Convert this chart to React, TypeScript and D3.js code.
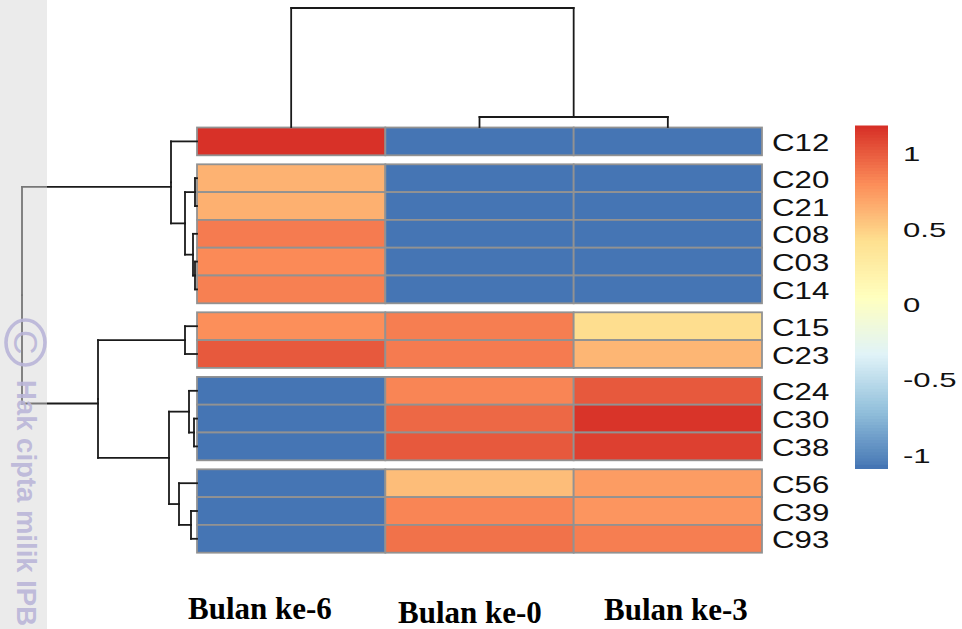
import { useEffect, useRef } from "react";
import * as d3 from "d3";

const columns = ["Bulan ke-6", "Bulan ke-0", "Bulan ke-3"];
const rowGroups = [["C12"], ["C20", "C21", "C08", "C03", "C14"], ["C15", "C23"], ["C24", "C30", "C38"], ["C56", "C39", "C93"]];
const cellValues: Record<string, number[]> = {
  C12: [1.16, -1.1, -1.1],
  C20: [0.62, -1.1, -1.1],
  C21: [0.63, -1.1, -1.1],
  C08: [0.86, -1.1, -1.1],
  C03: [0.8, -1.1, -1.1],
  C14: [0.84, -1.1, -1.1],
  C15: [0.78, 0.85, 0.42],
  C23: [1.0, 0.86, 0.6],
  C24: [-1.1, 0.82, 1.0],
  C30: [-1.1, 0.94, 1.15],
  C38: [-1.1, 1.0, 1.1],
  C56: [-1.1, 0.57, 0.72],
  C39: [-1.1, 0.82, 0.75],
  C93: [-1.1, 0.9, 0.85],
};
const legendTicks = [1, 0.5, 0, -0.5, -1];
const legendColors = ["#4575b4", "#91bfdb", "#e0f3f8", "#ffffbf", "#fee090", "#fc8d59", "#d73027"];
const legendDomain = [-1.1, 1.166];

type Node = { name?: string; height?: number; children?: Node[] };
const leaf = (name: string): Node => ({ name, height: 0 });
const rowTree: Node = {
  height: 8.75,
  children: [
    {
      height: 1.3,
      children: [
        leaf("C12"),
        {
          height: 0.6,
          children: [
            { height: 0.1, children: [leaf("C20"), leaf("C21")] },
            { height: 0.2, children: [leaf("C08"), { height: 0.1, children: [leaf("C03"), leaf("C14")] }] },
          ],
        },
      ],
    },
    {
      height: 4.95,
      children: [
        { height: 0.6, children: [leaf("C15"), leaf("C23")] },
        {
          height: 1.4,
          children: [
            { height: 0.4, children: [leaf("C24"), { height: 0.15, children: [leaf("C30"), leaf("C38")] }] },
            { height: 0.9, children: [leaf("C56"), { height: 0.3, children: [leaf("C39"), leaf("C93")] }] },
          ],
        },
      ],
    },
  ],
};
const columnTree: Node = {
  height: 5.95,
  children: [leaf("Bulan ke-6"), { height: 0.5, children: [leaf("Bulan ke-0"), leaf("Bulan ke-3")] }],
};

// elbow links: leaves get their position from leafPos, inner nodes from their children.
// firstLevelShift moves the two branches under the root, they sit a bit low in the source
function drawDendrogram(g: any, tree: Node, leafPos: (n: string) => number, depth: (h: number) => number, horizontal: boolean, firstLevelShift = 0) {
  const root = d3.hierarchy(tree);
  root.eachAfter((d: any) => {
    d.pos = d.children ? d3.mean(d.children, (c: any) => c.end ?? c.pos) : leafPos(d.data.name);
    d.end = d.depth === 1 ? d.pos + firstLevelShift : d.pos;
  });
  const segments: [number, number, number, number][] = [];
  root.each((d: any) => {
    if (!d.children) return;
    const h = depth(d.data.height);
    d.children.forEach((c: any) => {
      segments.push([d.pos, h, c.end, h]);
      segments.push([c.end, h, c.end, depth(c.data.height)]);
    });
  });
  g.selectAll("line")
    .data(segments)
    .enter()
    .append("line")
    .attr("x1", (s: number[]) => (horizontal ? s[0] : s[1]))
    .attr("y1", (s: number[]) => (horizontal ? s[1] : s[0]))
    .attr("x2", (s: number[]) => (horizontal ? s[2] : s[3]))
    .attr("y2", (s: number[]) => (horizontal ? s[3] : s[2]))
    .attr("stroke", "#1a1a1a")
    .attr("stroke-width", 1.8)
    .attr("stroke-linecap", "square");
}

export default function App() {
  const ref = useRef<SVGSVGElement>(null);

  useEffect(() => {
    const svg = d3.select(ref.current);
    svg.selectAll("*").remove();

    const rows = rowGroups.flat();
    const rowHeight = 27.8;
    const groupGap = 9;
    const top = 127.5;
    const x = d3.scaleBand().domain(columns).range([197, 762]);
    const groupOf = (r: string) => rowGroups.findIndex((g) => g.includes(r));
    const y = (r: string) => top + rows.indexOf(r) * rowHeight + groupOf(r) * groupGap;

    const color = d3
      .scaleLinear<string>()
      .domain(legendColors.map((_, i) => legendDomain[0] + (i * (legendDomain[1] - legendDomain[0])) / (legendColors.length - 1)))
      .range(legendColors)
      .interpolate(d3.interpolateRgb);

    // heatmap cells
    const cells = rows.flatMap((r) => columns.map((c, i) => ({ r, c, v: cellValues[r][i] })));
    svg
      .append("g")
      .selectAll("rect")
      .data(cells)
      .enter()
      .append("rect")
      .attr("x", (d) => x(d.c)!)
      .attr("y", (d) => y(d.r))
      .attr("width", x.bandwidth())
      .attr("height", rowHeight)
      .attr("fill", (d) => color(d.v))
      .attr("stroke", "#929292")
      .attr("stroke-width", 1.8);

    // row labels
    svg
      .append("g")
      .selectAll("text")
      .data(rows)
      .enter()
      .append("text")
      .attr("transform", (d) => `translate(772,${y(d) + rowHeight / 2 + 9.5}) scale(1.33,1)`)
      .attr("font-family", "Liberation Sans")
      .attr("font-size", 23.5)
      .attr("fill", "#111")
      .text((d) => d);

    // dendrograms
    const rowDepth = d3.scaleLinear().domain([0, 8.75]).range([197, 22]);
    const colDepth = d3.scaleLinear().domain([0, 5.95]).range([127, 8]);
    drawDendrogram(svg.append("g"), rowTree, (n) => y(n) + rowHeight / 2, rowDepth, false, 4.5);
    drawDendrogram(svg.append("g"), columnTree, (n) => x(n)! + x.bandwidth() / 2, colDepth, true);

    // watermark band goes over the dendrogram so the lines fade to grey in it
    svg.append("rect").attr("x", 0).attr("y", 0).attr("width", 47).attr("height", 629).attr("fill", "#e9e9e9").attr("fill-opacity", 0.45);
    svg.insert("rect", ":first-child").attr("x", 0).attr("y", 0).attr("width", 47).attr("height", 629).attr("fill", "#ededed");
    svg
      .append("ellipse")
      .attr("cx", 25.5)
      .attr("cy", 342.5)
      .attr("rx", 19.5)
      .attr("ry", 22.5)
      .attr("fill", "none")
      .attr("stroke", "#b9b5d8")
      .attr("stroke-opacity", 0.9)
      .attr("stroke-width", 3.6);
    svg
      .append("text")
      .attr("transform", "translate(14,330) rotate(90)")
      .attr("font-family", "Liberation Sans")
      .attr("font-size", 34)
      .attr("fill", "#b9b5d8")
      .attr("fill-opacity", 0.9)
      .text("C");
    svg
      .append("text")
      .attr("transform", "translate(17,380) rotate(90)")
      .attr("font-family", "Liberation Sans")
      .attr("font-weight", "bold")
      .attr("font-size", 27.5)
      .attr("fill", "#b9b5d8")
      .attr("fill-opacity", 0.9)
      .text("Hak cipta milik IPB");

    // column labels, pasted by hand in the source so they do not sit on one line
    const labelY = d3.scaleOrdinal<string, number>().domain(columns).range([619, 623, 620]);
    const labelX = d3.scaleOrdinal<string, number>().domain(columns).range([188, 398, 604]);
    svg
      .append("g")
      .selectAll("text")
      .data(columns)
      .enter()
      .append("text")
      .attr("x", (d) => labelX(d))
      .attr("y", (d) => labelY(d))
      .attr("font-family", "Liberation Serif")
      .attr("font-weight", "bold")
      .attr("font-size", 31)
      .attr("fill", "#000")
      .text((d) => d);

    // colour legend
    const legendY = d3.scaleLinear().domain([legendDomain[1], legendDomain[0]]).range([127, 469]);
    const steps = d3.range(0, 114);
    const stepValue = (i: number) => legendDomain[1] - (i * (legendDomain[1] - legendDomain[0])) / 113;
    svg
      .append("g")
      .selectAll("rect")
      .data(steps)
      .enter()
      .append("rect")
      .attr("x", 855)
      .attr("y", (i) => Math.min(legendY(stepValue(i)) - 1.5, 465))
      .attr("width", 33)
      .attr("height", 4)
      .attr("fill", (i) => color(stepValue(i)));
    svg
      .append("g")
      .selectAll("text")
      .data(legendTicks)
      .enter()
      .append("text")
      .attr("transform", (d) => `translate(903,${legendY(d) + 9}) scale(1.48,1)`)
      .attr("font-family", "Liberation Sans")
      .attr("font-size", 21)
      .attr("fill", "#111")
      .text((d) => String(d));
  }, []);

  return <svg ref={ref} width={962} height={629} style={{ position: "absolute", left: 0, top: 0, background: "#fff" }} />;
}
